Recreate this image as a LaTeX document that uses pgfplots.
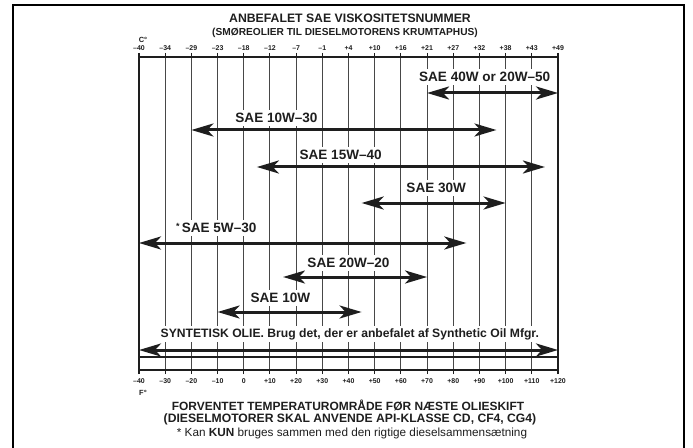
\documentclass[border=0pt]{standalone}
\usepackage{pgfplots}
\pgfplotsset{compat=1.18}
\usepackage{fontspec}
\setmainfont{Liberation Sans}
\usetikzlibrary{arrows.meta}
\definecolor{ink}{HTML}{1E1E1E}
\tikzset{
  twoway/.style={line width=3bp, color=ink,
    {Stealth[length=22bp,width=13bp,inset=6bp]}-{Stealth[length=22bp,width=13bp,inset=6bp]}},
  lab/.style={fill=white, inner xsep=2bp, inner ysep=3bp, text=ink,
    font=\bfseries\fontsize{13.6}{14}\selectfont}
}
\begin{document}
\begin{tikzpicture}[x=1bp,y=1bp]
\useasboundingbox (0,0) rectangle (693,-448);
\draw[line width=2.2bp] (13,-460) -- (13,-5) -- (684,-5) -- (684,-460);
% headings
\node[text=ink,font=\bfseries\fontsize{12.3}{13}\selectfont] at (350,-18) {ANBEFALET SAE VISKOSITETSNUMMER};
\node[text=ink,font=\bfseries\fontsize{10.2}{11}\selectfont] at (345,-33) {(SMØREOLIER TIL DIESELMOTORENS KRUMTAPHUS)};
\node[text=ink,font=\bfseries\fontsize{7.5}{8}\selectfont] at (143,-40) {C°};
\node[text=ink,font=\bfseries\fontsize{7.5}{8}\selectfont] at (143,-393) {F°};
\node[text=ink,font=\bfseries\fontsize{12}{13}\selectfont] at (348,-405) {FORVENTET TEMPERATUROMRÅDE FØR NÆSTE OLIESKIFT};
\node[text=ink,font=\bfseries\fontsize{12.2}{13}\selectfont] at (350,-419) {(DIESELMOTORER SKAL ANVENDE API-KLASSE CD, CF4, CG4)};
\node[text=ink,font=\fontsize{11.8}{13}\selectfont] at (352,-433) {* Kan \textbf{KUN} bruges sammen med den rigtige dieselsammensætning};
% top (Celsius) labels
\begin{axis}[at={(139bp,-370bp)}, anchor=south west, scale only axis,
  width=419bp, height=313bp, xmin=-40, xmax=120, ymin=-370, ymax=-57,
  axis line style={draw=none}, ytick=\empty, major tick length=0pt,
  xtick={-40,-30,...,120}, xticklabel pos=upper,
  xticklabels={–40,–34,–29,–23,–18,–12,–7,–1,+4,+10,+16,+21,+27,+32,+38,+43,+49},
  xticklabel style={font=\bfseries\fontsize{7}{8}\selectfont, text=ink, yshift=3bp}]
\addplot[draw=none] coordinates {(-40,-100)};
\end{axis}
\begin{axis}[at={(139bp,-370bp)}, anchor=south west, scale only axis,
  width=419bp, height=313bp, xmin=-40, xmax=120, ymin=-370, ymax=-57,
  axis line style={line width=1.3bp, ink},
  ytick=\empty,
  xtick={-40,-30,...,120},
  xticklabels={–40,–30,–20,–10,0,+10,+20,+30,+40,+50,+60,+70,+80,+90,+100,+110,+120},
  xticklabel style={font=\bfseries\fontsize{7}{8}\selectfont, text=ink, yshift=-1bp},
  tick align=outside, major tick length=4bp,
  tick style={line width=1.1bp, ink},
  xmajorgrids, grid style={line width=1.1bp, black!72},
  clip=false]
% bottom strip line
\addplot[line width=1.2bp, ink] coordinates {(-40,-357) (120,-357)};
\addplot[twoway] coordinates {(70,-93) (120,-93)};
\addplot[twoway] coordinates {(-20,-130) (96.5,-130)};
\addplot[twoway] coordinates {(5,-167) (115,-167)};
\addplot[twoway] coordinates {(45,-203) (100,-203)};
\addplot[twoway] coordinates {(-40,-243) (85,-243)};
\addplot[twoway] coordinates {(15,-277) (70,-277)};
\addplot[twoway] coordinates {(-10,-312) (45,-312)};
\addplot[twoway] coordinates {(-40,-350) (120,-350)};
\node[lab] at (axis cs:92,-77) {SAE 40W or 20W–50};
\node[lab] at (axis cs:12.5,-118) {SAE 10W–30};
\node[lab] at (axis cs:37,-155) {SAE 15W–40};
\node[lab] at (axis cs:73.5,-188) {SAE 30W};
\node[lab] at (axis cs:-10.5,-228) {\raisebox{3bp}{\fontsize{9}{9}\selectfont *}\,SAE 5W–30};
\node[lab] at (axis cs:40,-263) {SAE 20W–20};
\node[lab] at (axis cs:14,-298) {SAE 10W};
\node[lab, font=\bfseries\fontsize{12.2}{13}\selectfont, inner ysep=2bp] at (axis cs:40.5,-334) {SYNTETISK OLIE. Brug det, der er anbefalet af Synthetic Oil Mfgr.};
\end{axis}
\end{tikzpicture}
\end{document}
